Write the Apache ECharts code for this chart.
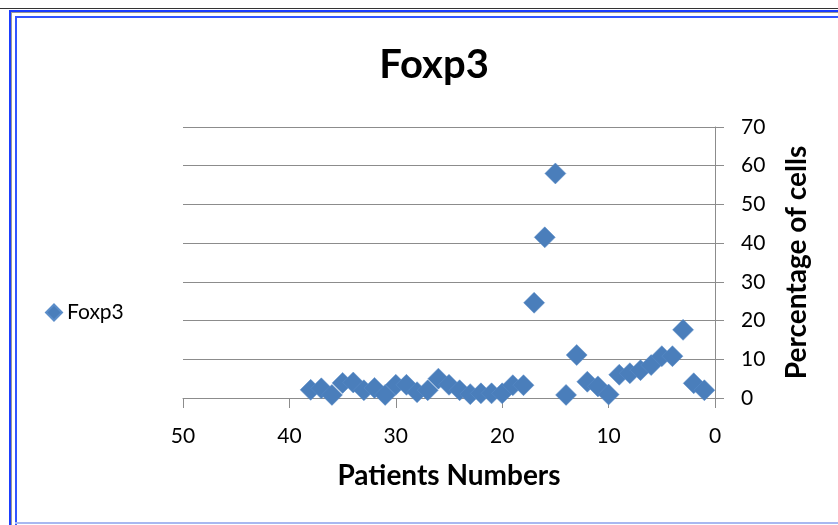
<!DOCTYPE html>
<html><head><meta charset="utf-8">
<script src="https://cdn.jsdelivr.net/npm/echarts@6/dist/echarts.min.js"></script>
<style>html,body{margin:0;padding:0;background:#fff}#c{width:838px;height:525px}</style>
</head><body><div id="c"></div>
<script>
const patientNumbers = [38,37,36,35,34,33,32,31,30,29,28,27,26,25,24,23,22,21,20,19,18,17,16,15,14,13,12,11,10,9,8,7,6,5,4,3,2,1];
const foxp3Values = [2.1,2.5,0.8,3.9,4,2,2.6,0.8,3.4,3.4,1.5,2,5,3.4,2,1,1.2,1.2,1.2,3.3,3.3,24.6,41.5,58,0.8,11.1,4.2,3,0.9,6,6.4,7.2,8.5,10.8,10.8,17.6,3.8,2];
const xTicks = [0,10,20,30,40,50];
const yTicks = [0,10,20,30,40,50,60,70];

const chart = echarts.init(document.getElementById('c'), null, {renderer:'canvas'});
const F = 'Lato, "Open Sans", sans-serif';
const data = patientNumbers.map((p,i)=>[p, foxp3Values[i]]);
chart.setOption({
  animation:false,
  backgroundColor:'#fff',
  title:{text:'Foxp3', left:429, textAlign:'center', top:40,
    textStyle:{fontFamily:F, fontWeight:'bold', fontSize:40, color:'#000'}},
  legend:{left:40, top:297, itemWidth:16, itemHeight:16, itemGap:8,
    textStyle:{fontFamily:F, fontSize:21, color:'#000'},
    data:[{name:'Foxp3', icon:'diamond'}]},
  grid:{left:183, right:123, top:127, bottom:127},
  xAxis:{type:'value', min:0, max:50, interval:10, inverse:true,
    name:'Patients Numbers', nameLocation:'middle', nameGap:64,
    nameTextStyle:{fontFamily:F, fontWeight:'bold', fontSize:28, color:'#000', verticalAlign:'top'},
    axisLine:{show:true, lineStyle:{color:'#8c8c8c', width:1}},
    axisTick:{show:true, length:10, inside:false, lineStyle:{color:'#8c8c8c'}},
    splitLine:{show:false},
    axisLabel:{fontFamily:F, fontSize:21, color:'#000', margin:28,
      formatter:v=>xTicks.includes(v)?String(v):''}},
  yAxis:{type:'value', position:'right', min:0, max:70, interval:10,
    name:'Percentage of cells', nameLocation:'middle', nameGap:68, nameRotate:90,
    nameTextStyle:{fontFamily:F, fontWeight:'bold', fontSize:28, color:'#000'},
    axisLine:{show:true, lineStyle:{color:'#8c8c8c', width:1}},
    axisTick:{show:true, length:9, lineStyle:{color:'#8c8c8c'}},
    splitLine:{show:true, lineStyle:{color:'#8c8c8c', width:1}},
    axisLabel:{fontFamily:F, fontSize:21, color:'#000', margin:26, align:'left',
      formatter:v=>yTicks.includes(v)?String(v):''}},
  series:[{name:'Foxp3', type:'scatter', symbol:'diamond', symbolSize:21,
    itemStyle:{color:'#4A7EBB', opacity:1, borderColor:'#5B8DC9', borderWidth:0.5}, data:data}],
  graphic:[
    {type:'rect', shape:{x:0,y:8,width:838,height:1}, style:{fill:'#333'}},
    {type:'rect', shape:{x:9,y:10,width:829,height:2}, style:{fill:'#1a3cff'}},
    {type:'rect', shape:{x:9,y:10,width:2,height:515}, style:{fill:'#1a3cff'}},
    {type:'rect', shape:{x:11,y:12,width:827,height:1}, style:{fill:'#999'}},
    {type:'rect', shape:{x:11,y:12,width:1,height:513}, style:{fill:'#999'}},
    {type:'rect', shape:{x:15,y:16,width:823,height:2}, style:{fill:'#3355ff'}},
    {type:'rect', shape:{x:15,y:16,width:2,height:509}, style:{fill:'#3355ff'}},
    {type:'rect', shape:{x:15,y:522,width:823,height:2}, style:{fill:'#a8b8f0'}}
  ]
});
</script></body></html>
